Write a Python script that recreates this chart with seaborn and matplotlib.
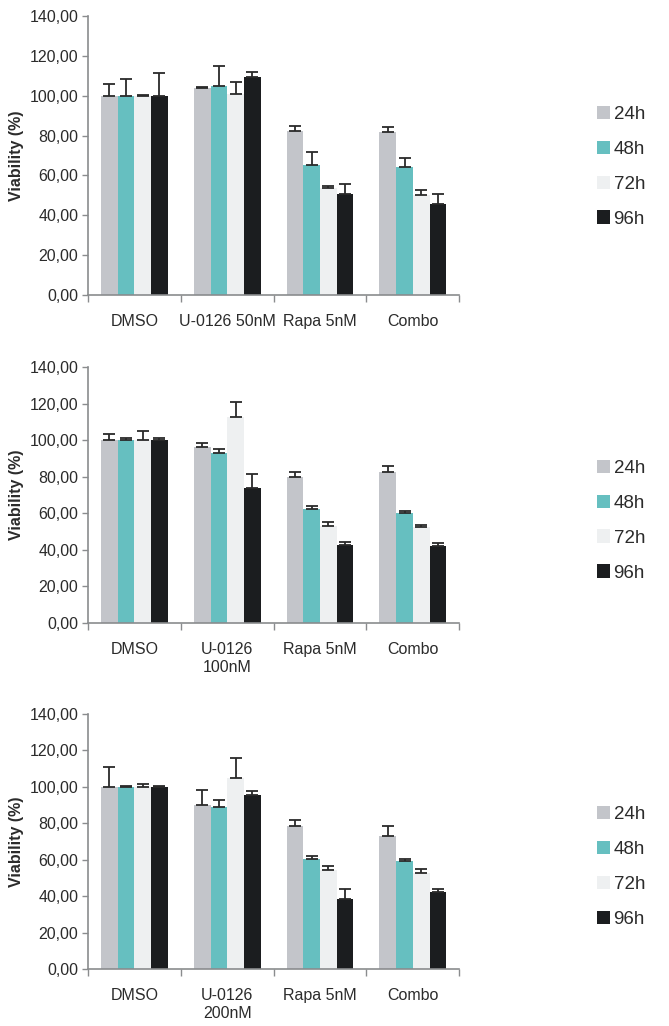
import matplotlib
matplotlib.use("Agg")
import matplotlib.pyplot as plt
import numpy as np
import pandas as pd
import seaborn as sns
from matplotlib.ticker import FuncFormatter, FixedLocator

sns.set_style("white")
plt.rcParams['font.family'] = ['Liberation Sans', 'DejaVu Sans']

hours = ["24h", "48h", "72h", "96h"]
colors = ["#c3c5ca", "#66bfc0", "#eef0f1", "#1b1d1f"]

cats1 = ["DMSO", "U-0126 50nM", "Rapa 5nM", "Combo"]
cats2 = ["DMSO", "U-0126\n100nM", "Rapa 5nM", "Combo"]
cats3 = ["DMSO", "U-0126\n200nM", "Rapa 5nM", "Combo"]

# viability (%) per hour, in category order
vals1 = {"24h": [100.0, 103.7, 82.4, 81.6],
         "48h": [100.0, 104.8, 65.1, 64.4],
         "72h": [100.0, 100.8, 53.5, 50.3],
         "96h": [100.0, 109.4, 50.8, 45.5]}
err1 = {"24h": [5.7, 0.8, 2.2, 2.5],
        "48h": [8.4, 10.2, 6.8, 4.3],
        "72h": [0.5, 6.1, 1.2, 2.2],
        "96h": [11.2, 2.5, 4.9, 5.3]}

vals2 = {"24h": [100.0, 96.5, 79.8, 82.7],
         "48h": [100.0, 93.1, 62.4, 60.4],
         "72h": [100.0, 112.5, 53.3, 52.4],
         "96h": [100.0, 73.6, 42.9, 42.0]}
err2 = {"24h": [3.3, 1.9, 2.6, 2.9],
        "48h": [1.3, 1.8, 1.8, 1.1],
        "72h": [5.1, 8.4, 1.8, 1.2],
        "96h": [1.3, 8.0, 1.6, 2.0]}

vals3 = {"24h": [100.0, 90.0, 78.3, 73.2],
         "48h": [100.0, 88.8, 60.4, 59.1],
         "72h": [100.0, 104.9, 54.2, 52.9],
         "96h": [100.0, 95.7, 38.4, 42.3]}
err3 = {"24h": [10.7, 8.5, 3.7, 5.5],
        "48h": [0.2, 4.0, 1.8, 1.1],
        "72h": [1.8, 10.9, 2.5, 1.8],
        "96h": [0.5, 1.8, 5.7, 1.8]}

panels = [(cats1, vals1, err1, [0.1315, 0.7125, 0.555, 0.272], 0.46),
          (cats2, vals2, err2, [0.1315, 0.3928, 0.555, 0.2495], 0.40),
          (cats3, vals3, err3, [0.1315, 0.0556, 0.555, 0.2485], 0.40)]

fig = plt.figure(figsize=(6.69, 10.26), dpi=100)
axis_col = "#8a8c8e"
text_col = "#2b2b2b"

for cats, vals, errs, pos, leg_y in panels:
    ax = fig.add_axes(pos)
    rows = []
    for h in hours:
        for c, v in zip(cats, vals[h]):
            rows.append({"cat": c, "hour": h, "val": v})
    df = pd.DataFrame(rows)
    sns.barplot(data=df, x="cat", y="val", hue="hour", order=cats,
                hue_order=hours, palette=colors, width=0.72,
                errorbar=None, saturation=1, linewidth=0, ax=ax)

    # upward-only error bars (Excel style)
    for cont, h in zip(ax.containers, hours):
        xs = [b.get_x() + b.get_width() / 2 for b in cont]
        ys = [b.get_height() for b in cont]
        e = errs[h]
        ax.errorbar(xs, ys, yerr=[np.zeros(len(e)), e], fmt="none",
                    ecolor="#2a2a2a", elinewidth=1.3, capsize=4,
                    capthick=1.3, zorder=3)

    ax.set_xlim(-0.5, 3.5)
    ax.set_ylim(0, 140)
    ax.set_yticks(np.arange(0, 141, 20))
    ax.yaxis.set_major_formatter(FuncFormatter(lambda v, p: f"{v:.2f}".replace(".", ",")))
    ax.xaxis.set_minor_locator(FixedLocator([-0.5, 0.5, 1.5, 2.5, 3.5]))
    ax.tick_params(axis="x", which="major", length=0, pad=14,
                   labelsize=11.5, labelcolor=text_col)
    ax.tick_params(axis="x", which="minor", length=5, width=1, color=axis_col,
                   direction="out", bottom=True)
    ax.tick_params(axis="y", length=4, width=1, color=axis_col, direction="out",
                   left=True, labelsize=11.5, labelcolor=text_col, pad=3)
    for s in ["top", "right"]:
        ax.spines[s].set_visible(False)
    for s in ["left", "bottom"]:
        ax.spines[s].set_color(axis_col)
        ax.spines[s].set_linewidth(1.2)
    ax.set_xlabel("")
    ax.set_ylabel("Viability (%)", fontsize=11.5, fontweight="bold",
                  color=text_col, labelpad=4)

    handles, labels = ax.get_legend_handles_labels()
    ax.legend(handles, labels, loc="center left", bbox_to_anchor=(1.37, leg_y),
              frameon=False, fontsize=13.5, handlelength=0.7, handleheight=0.7,
              handletextpad=0.2, labelspacing=0.95, borderaxespad=0,
              borderpad=0, labelcolor=text_col)

fig.savefig("out.png", dpi=100)
